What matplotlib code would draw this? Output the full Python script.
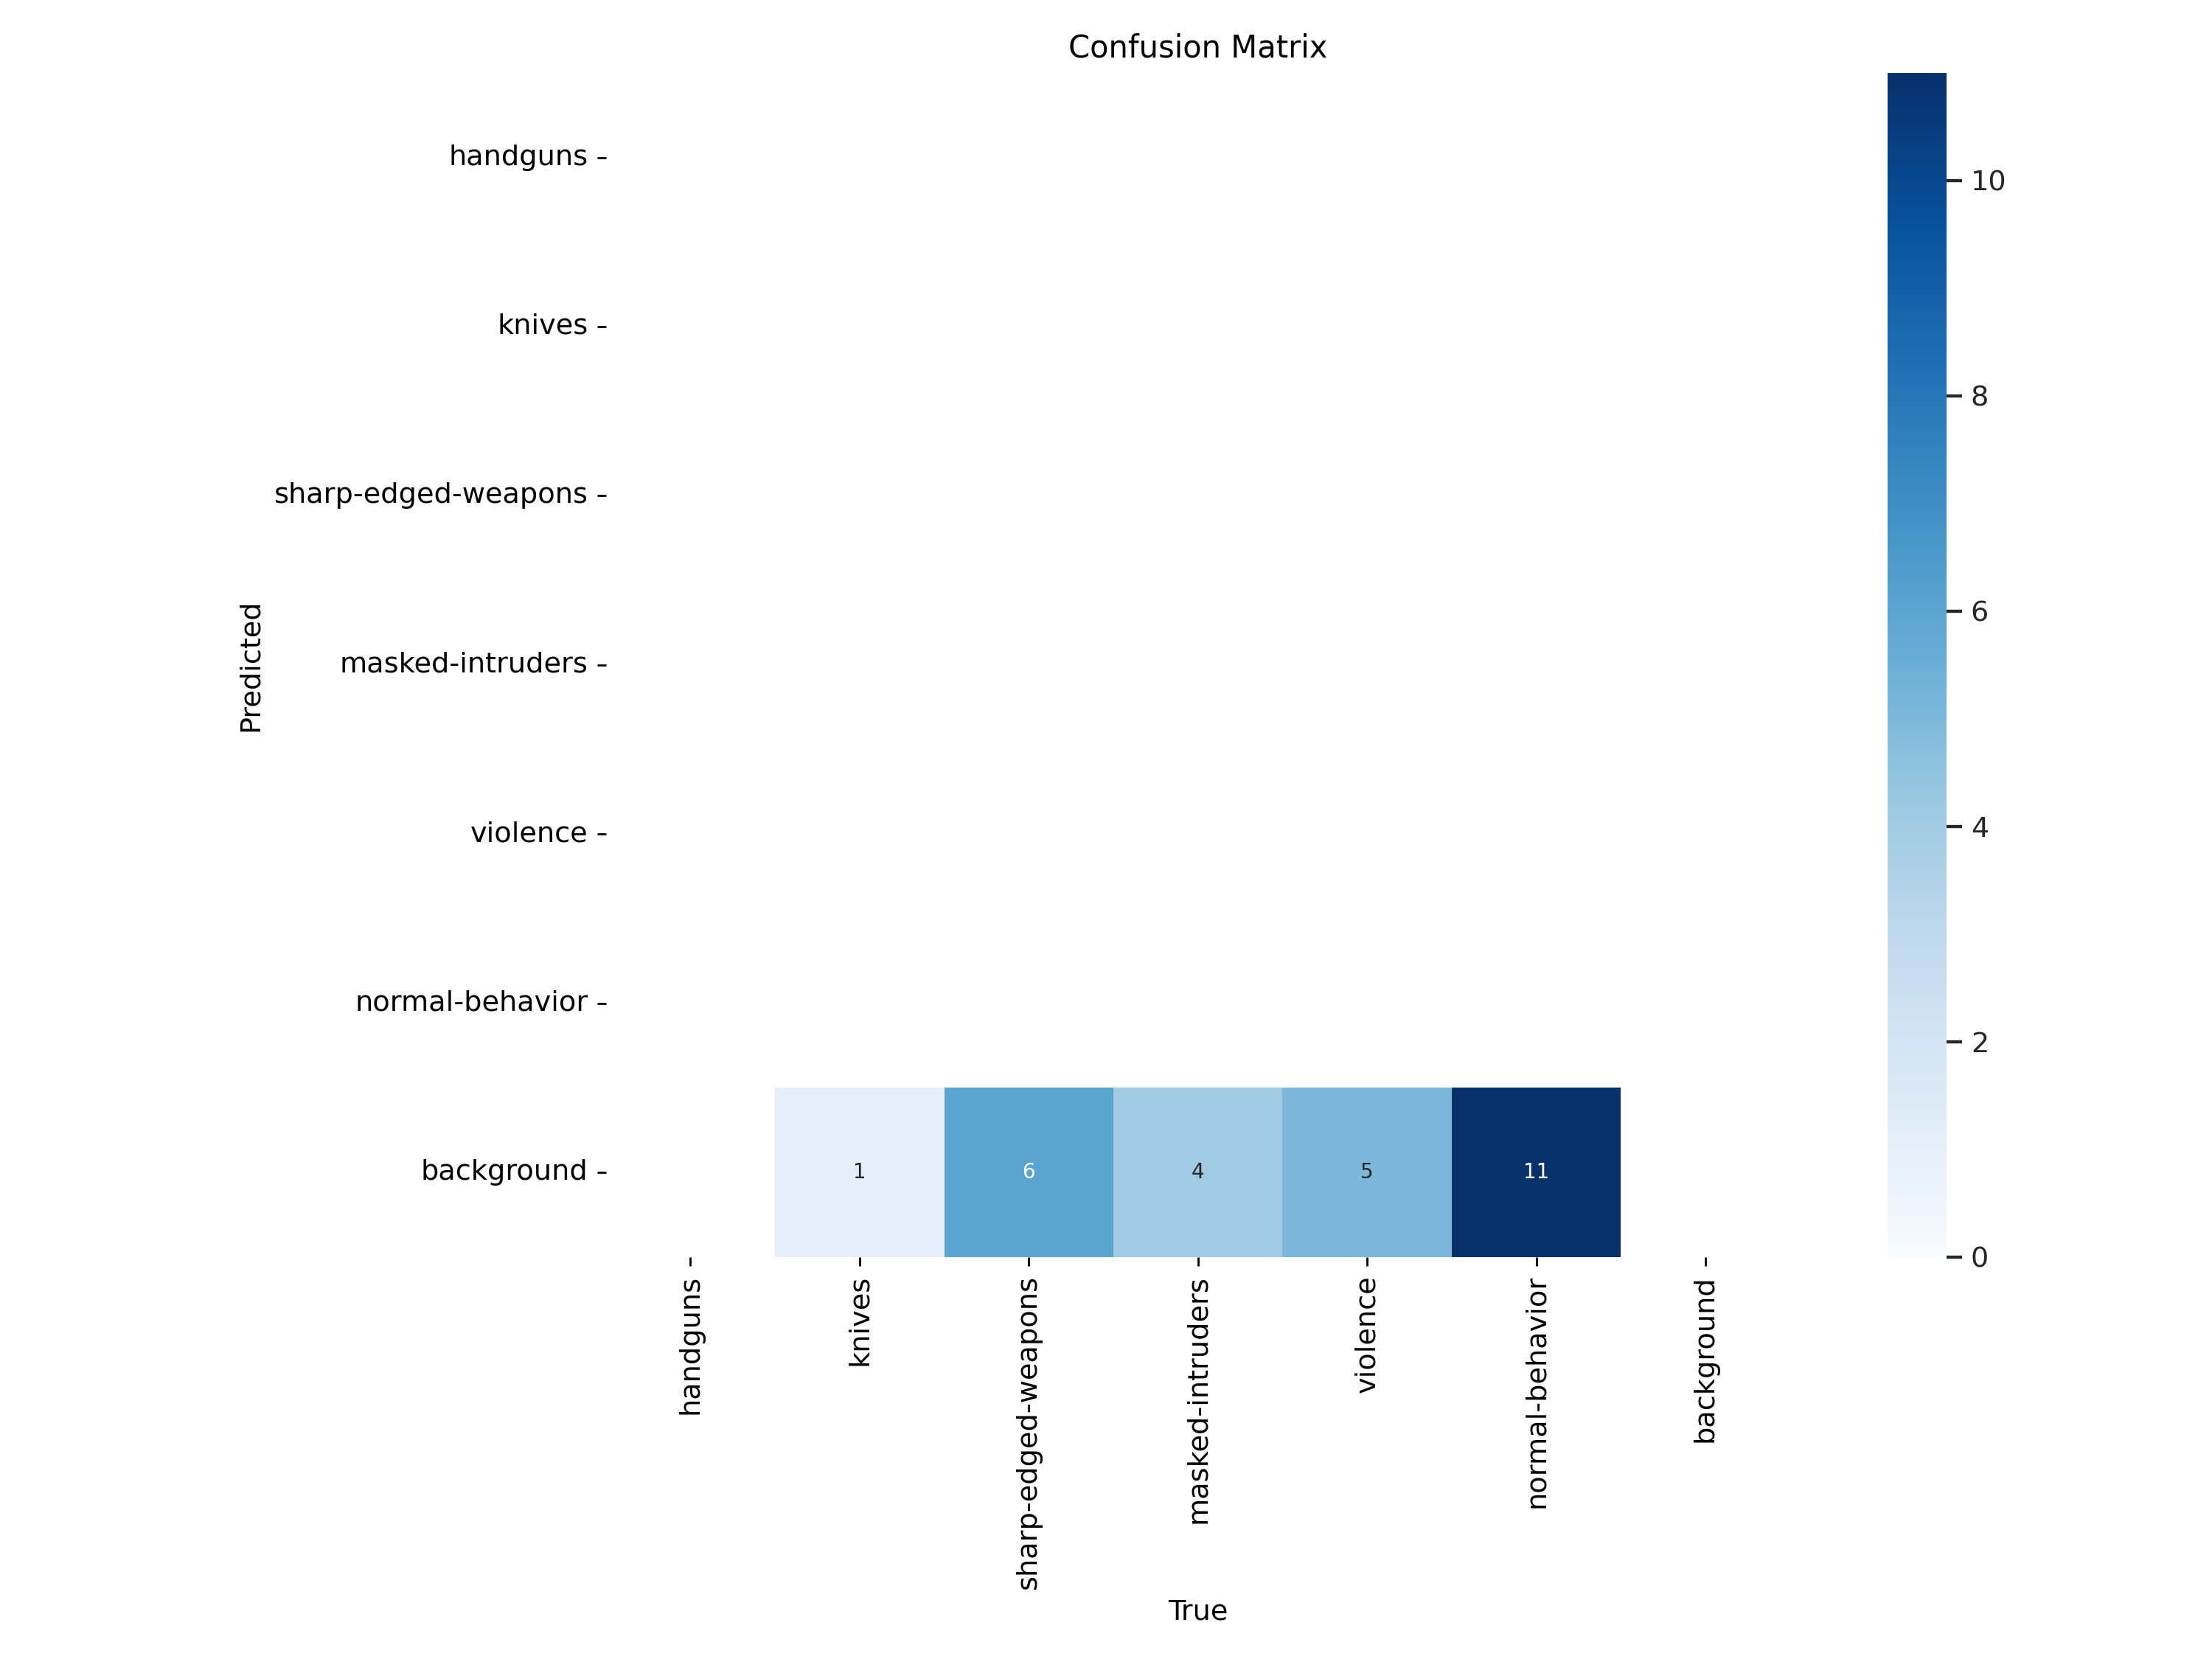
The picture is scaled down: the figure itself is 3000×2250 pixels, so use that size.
import matplotlib
matplotlib.use("Agg")
import matplotlib.pyplot as plt
import seaborn as sns
import numpy as np

names = ['handguns', 'knives', 'sharp-edged-weapons', 'masked-intruders',
         'violence', 'normal-behavior', 'background']

# rows = predicted, cols = true; nan where the cell is empty
handguns_row = [np.nan] * 7
knives_row = [np.nan] * 7
sharp_row = [np.nan] * 7
masked_row = [np.nan] * 7
violence_row = [np.nan] * 7
normal_row = [np.nan] * 7
background_row = [np.nan, 1, 6, 4, 5, 11, np.nan]

array = np.array([handguns_row, knives_row, sharp_row, masked_row,
                  violence_row, normal_row, background_row], dtype=float)

plt.rcParams['xtick.labelsize'] = 11
plt.rcParams['ytick.labelsize'] = 11
plt.rcParams['axes.labelsize'] = 11
plt.rcParams['axes.titlesize'] = 12

fig, ax = plt.subplots(1, 1, figsize=(12, 9), tight_layout=True)
sns.heatmap(array, ax=ax, annot=True, annot_kws={"size": 8}, cmap='Blues',
            fmt='.0f', square=True, vmin=0.0,
            xticklabels=names, yticklabels=names).set_facecolor((1, 1, 1))
ax.set_xlabel('True')
ax.set_ylabel('Predicted')
ax.set_title('Confusion Matrix')

# colorbar ticks in seaborn's style
cbar = ax.collections[0].colorbar
cbar.ax.tick_params(length=6, width=1.25, color='0.15', labelcolor='0.15',
                    labelsize=11)

# layout padding follows a 12pt base font
plt.rcParams['font.size'] = 12
fig.savefig('out.png', dpi=250)
